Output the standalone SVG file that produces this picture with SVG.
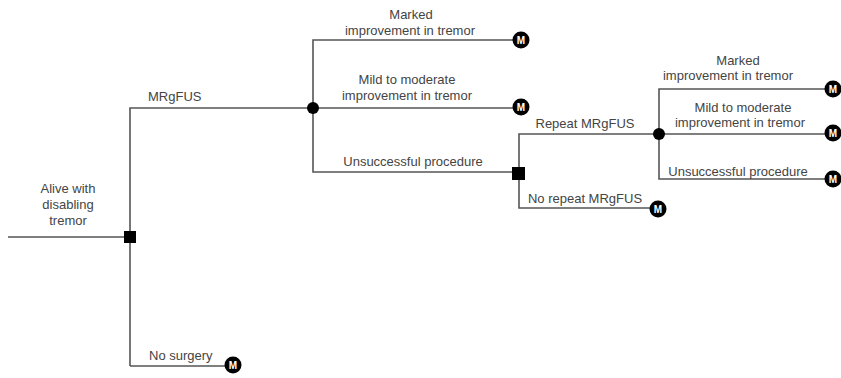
<svg xmlns="http://www.w3.org/2000/svg" width="841" height="378" viewBox="0 0 841 378">
<defs>
<style>
.ln{stroke:#555;stroke-width:1.6;fill:none}
.t{font-family:"Liberation Sans",Arial,sans-serif;font-size:13px;fill:#444}
.c{text-anchor:middle}
.mc{fill:#000}
.mt{font-family:"Liberation Sans",Arial,sans-serif;font-size:10px;font-weight:bold;fill:#fff;text-anchor:middle}
</style>
<g id="mnode"><circle class="mc" r="8.5"/><text class="mt" y="3.6">M</text></g>
</defs>
<rect width="841" height="378" fill="#fff"/>
<g id="connectors">
<path class="ln" d="M8,237 H130"/>
<path class="ln" d="M130,366 V108 H313"/>
<path class="ln" d="M130,366 H226"/>
<path class="ln" d="M513,40 H313 V172 H518"/>
<path class="ln" d="M313,108 H515"/>
<path class="ln" d="M659,134 H519 V208 H650"/>
<path class="ln" d="M826,89 H659 V179 H826"/>
<path class="ln" d="M659,134 H826"/>
</g>
<g id="root">
<text class="t c" x="68" y="193">Alive with</text>
<text class="t c" x="68" y="209">disabling</text>
<text class="t c" x="68" y="225">tremor</text>
</g>
<g id="decision1"><rect x="124" y="231" width="12" height="12" fill="#000"/></g>
<g id="chance1"><circle cx="313" cy="108" r="6" fill="#000"/></g>
<g id="decision2"><rect x="512" y="167" width="13" height="13" fill="#000"/></g>
<g id="chance2"><circle cx="659" cy="134" r="6" fill="#000"/></g>
<g id="lbl-mrgfus"><text class="t" x="148" y="101">MRgFUS</text></g>
<g id="lbl-nosurgery"><text class="t" x="149" y="360">No surgery</text></g>
<g id="lbl-marked1"><text class="t c" x="411" y="19">Marked</text><text class="t c" x="410" y="35">improvement in tremor</text></g>
<g id="lbl-mild1"><text class="t c" x="407" y="84">Mild to moderate</text><text class="t c" x="407" y="100">improvement in tremor</text></g>
<g id="lbl-unsucc1"><text class="t c" x="413" y="166">Unsuccessful procedure</text></g>
<g id="lbl-repeat"><text class="t c" x="585" y="128">Repeat MRgFUS</text></g>
<g id="lbl-norepeat"><text class="t c" x="585" y="203">No repeat MRgFUS</text></g>
<g id="lbl-marked2"><text class="t c" x="738" y="65">Marked</text><text class="t c" x="728" y="80">improvement in tremor</text></g>
<g id="lbl-mild2"><text class="t c" x="743" y="112">Mild to moderate</text><text class="t c" x="740" y="127">improvement in tremor</text></g>
<g id="lbl-unsucc2"><text class="t c" x="738" y="176">Unsuccessful procedure</text></g>
<g id="m1"><use href="#mnode" x="521" y="40"/></g>
<g id="m2"><use href="#mnode" x="521" y="107"/></g>
<g id="m3"><use href="#mnode" x="658" y="209"/></g>
<g id="m4"><use href="#mnode" x="833" y="89"/></g>
<g id="m5"><use href="#mnode" x="833" y="133"/></g>
<g id="m6"><use href="#mnode" x="833" y="179"/></g>
<g id="m7"><use href="#mnode" x="233" y="365"/></g>
</svg>
